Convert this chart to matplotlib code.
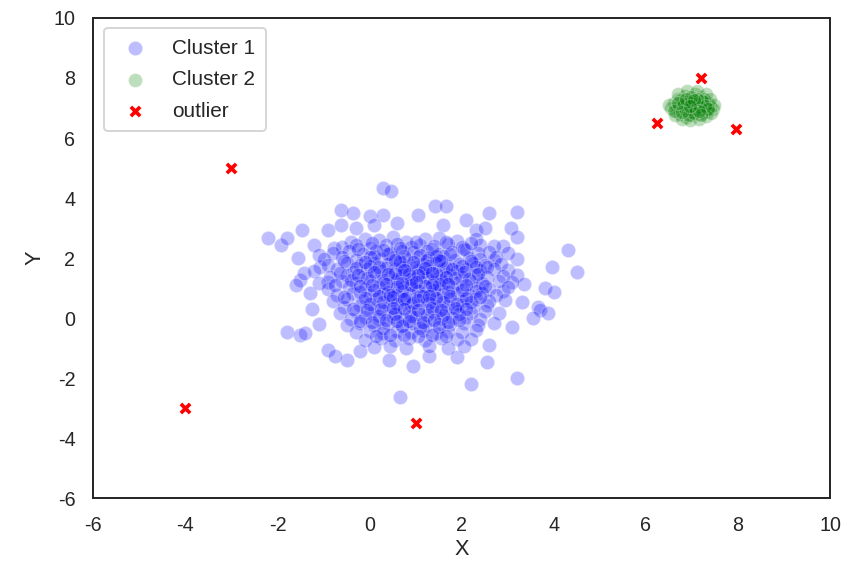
import matplotlib
matplotlib.use("Agg")
import matplotlib.pyplot as plt
import seaborn as sns

# Cluster 1 points (estimated by eye from the reference)
c1 = [
    # outer / sparse points
    (0.30, 4.33), (0.46, 4.23), (1.43, 3.73), (1.67, 3.72), (-0.63, 3.6), (-0.35, 3.5),
    (0.0, 3.4), (0.3, 3.43), (0.6, 3.17), (1.6, 3.1), (1.05, 3.45), (2.1, 3.27),
    (2.6, 3.5), (3.2, 3.55), (3.07, 3.0), (3.2, 2.7), (2.9, 2.4), (3.2, 1.97),
    (2.7, 1.93), (3.0, 1.6), (3.2, 1.43), (4.3, 2.27), (4.5, 1.53), (3.97, 1.7),
    (3.8, 1.0), (4.0, 0.87), (3.65, 0.37), (3.7, 0.27), (3.87, 0.17), (3.55, 0.0),
    (3.3, 0.55), (3.1, -0.3), (3.2, -2.0), (2.2, -2.2), (2.55, -1.45), (2.6, -0.9),
    (0.65, -2.63), (0.95, -1.6), (0.43, -1.4), (-0.5, -1.4), (-0.9, -1.05), (-0.75, -1.25),
    (-1.8, -0.45), (-1.5, -0.55), (-1.4, -0.5), (-1.3, 0.83), (-1.5, 1.27), (-1.43, 1.5),
    (-1.07, 1.7), (-0.9, 1.2), (-1.46, 2.93), (-2.2, 2.67), (-1.93, 2.43), (-1.8, 2.67),
    (-0.9, 2.93), (-0.63, 3.1), (-1.2, 2.43), (-0.77, 2.33), (-1.6, 1.1), (-1.25, 0.3),
    (-1.1, -0.2), (-0.3, 3.0), (2.3, 2.95), (1.9, -1.3), (1.3, -1.25), (-0.2, -1.1),
    (2.9, 0.9), (3.35, 1.15), (-1.55, 2.0), (-1.1, 2.1), (0.1, 3.1), (2.5, 3.0),
    # core rows
    (-0.4, 2.55), (-0.1, 2.65), (0.2, 2.6), (0.5, 2.7), (0.8, 2.55), (1.2, 2.62), (1.5, 2.68), (1.9, 2.58), (2.3, 2.63),
    (-0.6, 2.38), (-0.3, 2.45), (0.0, 2.35), (0.35, 2.42), (0.6, 2.48), (0.9, 2.36), (1.1, 2.44), (1.4, 2.39), (1.7, 2.46), (2.0, 2.37), (2.4, 2.43), (2.7, 2.4),
    (-0.8, 2.18), (-0.45, 2.24), (-0.15, 2.15), (0.15, 2.22), (0.45, 2.17), (0.7, 2.25), (0.95, 2.19), (1.25, 2.23), (1.5, 2.14), (1.8, 2.21), (2.1, 2.26), (2.35, 2.16), (2.6, 2.2), (3.0, 2.18),
    (-1.0, 1.98), (-0.6, 2.04), (-0.3, 1.95), (0.0, 2.02), (0.25, 1.97), (0.5, 2.05), (0.8, 1.96), (1.05, 2.03), (1.3, 1.99), (1.6, 2.06), (1.85, 1.94), (2.15, 2.01), (2.4, 1.97), (2.75, 2.04),
    (-0.9, 1.78), (-0.5, 1.83), (-0.2, 1.76), (0.1, 1.82), (0.4, 1.79), (0.65, 1.85), (0.9, 1.77), (1.15, 1.81), (1.45, 1.84), (1.7, 1.75), (1.95, 1.8), (2.25, 1.83), (2.5, 1.78), (2.85, 1.81),
    (-1.2, 1.58), (-0.7, 1.63), (-0.35, 1.55), (-0.05, 1.62), (0.25, 1.57), (0.55, 1.64), (0.8, 1.56), (1.05, 1.61), (1.35, 1.58), (1.6, 1.65), (1.9, 1.57), (2.1, 1.62), (2.4, 1.59), (2.7, 1.63),
    (-0.85, 1.38), (-0.5, 1.43), (-0.15, 1.36), (0.15, 1.42), (0.45, 1.37), (0.7, 1.44), (0.95, 1.35), (1.2, 1.41), (1.5, 1.39), (1.75, 1.45), (2.0, 1.36), (2.3, 1.42), (2.55, 1.38), (2.9, 1.41),
    (-1.1, 1.18), (-0.6, 1.23), (-0.3, 1.16), (0.0, 1.22), (0.3, 1.17), (0.6, 1.24), (0.85, 1.15), (1.1, 1.21), (1.4, 1.19), (1.65, 1.25), (1.9, 1.16), (2.2, 1.22), (2.45, 1.18), (2.8, 1.23), (3.1, 1.19),
    (-0.9, 0.98), (-0.45, 1.03), (-0.1, 0.96), (0.2, 1.02), (0.5, 0.97), (0.75, 1.04), (1.0, 0.95), (1.3, 1.01), (1.55, 0.99), (1.8, 1.05), (2.05, 0.96), (2.35, 1.02), (2.6, 0.98), (3.0, 1.03),
    (-0.7, 0.78), (-0.35, 0.83), (0.0, 0.76), (0.3, 0.82), (0.6, 0.77), (0.85, 0.84), (1.1, 0.75), (1.35, 0.81), (1.6, 0.79), (1.9, 0.85), (2.15, 0.76), (2.45, 0.82), (2.75, 0.78),
    (-0.8, 0.58), (-0.5, 0.63), (-0.15, 0.56), (0.15, 0.62), (0.45, 0.57), (0.7, 0.64), (0.95, 0.55), (1.25, 0.61), (1.5, 0.59), (1.75, 0.65), (2.0, 0.56), (2.3, 0.62), (2.6, 0.58), (2.95, 0.61),
    (-0.55, 0.38), (-0.2, 0.43), (0.1, 0.36), (0.4, 0.42), (0.65, 0.37), (0.9, 0.44), (1.2, 0.35), (1.45, 0.41), (1.7, 0.39), (2.0, 0.45), (2.25, 0.36), (2.55, 0.42),
    (-0.65, 0.18), (-0.3, 0.23), (0.0, 0.16), (0.3, 0.22), (0.55, 0.17), (0.85, 0.24), (1.1, 0.15), (1.4, 0.21), (1.65, 0.19), (1.9, 0.25), (2.2, 0.16), (2.5, 0.22), (2.8, 0.18),
    (-0.4, -0.02), (-0.1, 0.03), (0.2, -0.04), (0.5, 0.02), (0.75, -0.03), (1.0, 0.04), (1.3, -0.05), (1.55, 0.01), (1.8, -0.01), (2.1, 0.05), (2.4, -0.04),
    (-0.5, -0.22), (-0.2, -0.17), (0.1, -0.24), (0.4, -0.18), (0.7, -0.23), (0.95, -0.16), (1.2, -0.25), (1.5, -0.19), (1.75, -0.21), (2.05, -0.15), (2.35, -0.24), (2.7, -0.18),
    (-0.3, -0.47), (0.0, -0.42), (0.3, -0.49), (0.6, -0.43), (0.9, -0.48), (1.15, -0.41), (1.45, -0.5), (1.7, -0.44), (2.0, -0.46), (2.3, -0.4),
    (-0.1, -0.72), (0.25, -0.67), (0.55, -0.74), (0.85, -0.68), (1.2, -0.73), (1.55, -0.66), (1.9, -0.71), (2.2, -0.69),
    (0.1, -0.97), (0.45, -0.92), (0.8, -0.99), (1.3, -0.93), (1.7, -0.98), (2.05, -0.94),
    # denser centre layer
    (0.1, 2.08), (0.4, 2.12), (0.75, 2.06), (1.1, 2.11), (1.45, 2.07), (1.75, 2.13),
    (-0.3, 1.68), (0.0, 1.72), (0.35, 1.66), (0.7, 1.71), (1.0, 1.69), (1.3, 1.74), (1.65, 1.67), (2.0, 1.72), (2.3, 1.7),
    (-0.4, 1.28), (-0.05, 1.32), (0.3, 1.26), (0.6, 1.31), (0.9, 1.29), (1.25, 1.34), (1.55, 1.27), (1.85, 1.32), (2.15, 1.3),
    (-0.2, 0.88), (0.1, 0.92), (0.4, 0.86), (0.7, 0.91), (1.05, 0.89), (1.4, 0.94), (1.7, 0.87), (2.0, 0.92), (2.3, 0.9),
    (0.0, 0.48), (0.3, 0.52), (0.6, 0.46), (0.95, 0.51), (1.3, 0.49), (1.6, 0.54), (1.9, 0.47), (2.2, 0.52),
    (0.2, 0.08), (0.55, 0.12), (0.9, 0.06), (1.25, 0.11), (1.6, 0.09), (1.95, 0.13),
    (0.3, -0.32), (0.7, -0.28), (1.1, -0.34), (1.5, -0.29),
    (0.55, 1.5), (0.85, 1.48), (1.15, 1.52), (1.45, 1.49), (0.6, 1.05), (0.9, 1.1), (1.2, 1.07), (1.5, 1.12),
    (0.5, 0.7), (0.8, 0.68), (1.15, 0.72), (1.45, 0.67), (0.65, 1.9), (0.95, 1.88), (1.25, 1.92), (1.55, 1.9),
    # extra core layer
    (-0.25, 2.3), (0.05, 2.5), (0.3, 2.28), (0.65, 2.35), (1.0, 2.52), (1.35, 2.3), (1.65, 2.55), (2.05, 2.3), (2.2, 2.5),
    (-0.55, 1.9), (-0.1, 1.88), (0.2, 1.7), (0.55, 1.95), (1.2, 1.68), (1.5, 1.95), (1.8, 1.62), (2.2, 1.9), (2.55, 1.7),
    (-0.65, 1.5), (-0.25, 1.45), (0.1, 1.55), (0.4, 1.48), (0.75, 1.6), (1.05, 1.42), (1.35, 1.5), (1.65, 1.38), (2.05, 1.52), (2.35, 1.48),
    (-0.75, 1.1), (-0.2, 1.08), (0.05, 1.1), (0.35, 1.12), (0.7, 1.18), (1.0, 1.2), (1.35, 1.1), (1.7, 1.15), (2.1, 1.1), (2.5, 1.08),
    (-0.55, 0.7), (-0.1, 0.68), (0.2, 0.72), (0.45, 0.78), (0.75, 0.62), (1.05, 0.6), (1.3, 0.72), (1.75, 0.72), (2.1, 0.68), (2.4, 0.7),
    (-0.35, 0.3), (-0.05, 0.28), (0.25, 0.3), (0.5, 0.32), (0.75, 0.3), (1.05, 0.28), (1.35, 0.32), (1.55, 0.28), (1.85, 0.35), (2.1, 0.3),
    (-0.2, -0.1), (0.05, -0.12), (0.35, -0.08), (0.6, -0.1), (0.85, -0.1), (1.15, -0.12), (1.4, -0.08), (1.7, -0.12), (1.95, -0.08),
    (0.15, -0.6), (0.45, -0.58), (0.75, -0.55), (1.05, -0.6), (1.35, -0.55), (1.65, -0.6),
]
c1_x = [p[0] for p in c1]
c1_y = [p[1] for p in c1]

# Cluster 2 points (tight cluster near (7, 7))
c2 = [
    (6.6, 7.15), (6.65, 6.9), (6.7, 7.3), (6.72, 7.05), (6.75, 6.8), (6.8, 7.2), (6.82, 6.95),
    (6.85, 7.4), (6.88, 6.7), (6.9, 7.1), (6.92, 6.85), (6.95, 7.3), (6.97, 7.0), (7.0, 6.75),
    (7.02, 7.2), (7.05, 6.9), (7.07, 7.45), (7.1, 7.05), (7.12, 6.8), (7.15, 7.25), (7.17, 6.95),
    (7.2, 7.35), (7.22, 7.1), (7.25, 6.85), (7.27, 7.2), (7.3, 7.0), (7.33, 6.9), (7.35, 7.15),
    (7.4, 7.05), (7.45, 6.95), (7.48, 7.1), (6.55, 7.0), (6.62, 6.75), (6.78, 6.62), (6.95, 6.6),
    (7.15, 6.62), (7.3, 6.72), (6.7, 7.45), (6.9, 7.55), (7.1, 7.55), (7.3, 7.45), (6.85, 7.0),
    (7.0, 7.1), (7.05, 7.0), (6.95, 6.95), (7.1, 7.15), (6.9, 7.2), (7.2, 6.95), (6.8, 7.05),
    (7.0, 6.88), (7.15, 7.05), (6.92, 7.08), (7.08, 6.98), (6.98, 7.22), (7.25, 7.3), (6.75, 7.25),
    (6.5, 7.1), (7.42, 6.82), (7.38, 7.3), (6.6, 6.9),
    (6.88, 6.92), (7.02, 7.05), (7.12, 7.12), (6.97, 7.15), (7.18, 7.02), (6.83, 7.12), (7.05, 6.82),
    (7.22, 7.22), (6.93, 6.78), (7.28, 7.08), (6.78, 6.88), (7.1, 7.3), (6.98, 7.38), (7.35, 6.95),
    (6.7, 7.15), (7.2, 6.78), (6.87, 7.3), (7.05, 7.25), (7.15, 6.9), (6.95, 7.05),
]
c2_x = [p[0] for p in c2]
c2_y = [p[1] for p in c2]

# Outliers
out_x = [-3.0, -4.0, 1.0, 7.2, 6.25, 7.95]
out_y = [5.0, -3.0, -3.5, 8.0, 6.5, 6.3]

sns.set_theme(style="white")
plt.rcParams['font.family'] = ['Liberation Sans', 'DejaVu Sans']
plt.rcParams['axes.unicode_minus'] = False

fig = plt.figure(figsize=(6.0, 561 / 142.5), dpi=142.5)
ax = fig.add_axes([0.109, 0.112, 0.862, 0.856])

ax.scatter(c1_x, c1_y, s=52, color='blue', alpha=0.26, edgecolors='white', linewidths=0.6, label='Cluster 1')
ax.scatter(c2_x, c2_y, s=50, color='green', alpha=0.26, edgecolors='white', linewidths=0.6, label='Cluster 2')
ax.scatter(out_x, out_y, s=45, color='red', marker='X', edgecolors='white', linewidths=0.5, label='outlier')

ax.set_xlim(-6, 10)
ax.set_ylim(-6, 10)
ax.set_xticks(range(-6, 11, 2))
ax.set_yticks(range(-6, 11, 2))
ax.tick_params(labelsize=10, colors='#262626', pad=3)
ax.set_xlabel('X', fontsize=11, color='#262626', labelpad=2)
ax.set_ylabel('Y', fontsize=11, color='#262626', labelpad=4)
for s in ax.spines.values():
    s.set_color('#262626')
    s.set_linewidth(1.0)

ax.legend(loc='upper left', fontsize=10.5, frameon=True, labelspacing=0.6, borderpad=0.5)

fig.savefig('out.png', dpi=142.5)
